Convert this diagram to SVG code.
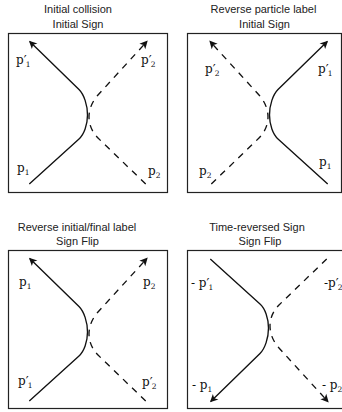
<svg xmlns="http://www.w3.org/2000/svg" width="342" height="412" viewBox="0 0 342 412">
<style>
.box{fill:#fff;stroke:#222;stroke-width:1.2}
.title{font-family:"Liberation Sans",Arial,sans-serif;font-size:11px;fill:#222;text-anchor:middle}
.m{font-family:"DejaVu Serif","Liberation Serif",serif;font-size:12px;fill:#111}
.sup{font-size:13px}
.sub{font-size:7.5px}
.solid{fill:none;stroke:#111;stroke-width:1.35;marker-end:url(#arr)}
.dashed{fill:none;stroke:#111;stroke-width:1.35;stroke-dasharray:6.5 6;marker-end:url(#arr)}
</style>
<defs>
<marker id="arr" markerUnits="userSpaceOnUse" markerWidth="1" markerHeight="1" refX="0" refY="0" orient="auto" overflow="visible">
<path d="M1.5,0 L-6.5,-4 L-4.5,0 L-6.5,4 Z" fill="#111" stroke="none"/>
</marker>
</defs>
<rect width="342" height="412" fill="#fff"/>
<g id="panel1">
<rect class="box" x="8.5" y="33.5" width="159" height="159"/>
<text class="title" x="78" y="13">Initial collision</text>
<text class="title" x="78" y="27.5">Initial Sign</text>
<text class="m" x="16" y="64">p<tspan class="sup" dy="1">′</tspan><tspan class="sub" dx="-1" dy="1.5">1</tspan></text>
<text class="m" x="141" y="64">p<tspan class="sup" dy="1">′</tspan><tspan class="sub" dx="-1" dy="1.5">2</tspan></text>
<text class="m" x="17" y="172">p<tspan class="sub" dy="2.5">1</tspan></text>
<text class="m" x="148" y="175">p<tspan class="sub" dy="2.5">2</tspan></text>
</g>
<g id="panel2">
<rect class="box" x="187.5" y="33.5" width="154" height="159"/>
<text class="title" x="263.5" y="13">Reverse particle label</text>
<text class="title" x="264.5" y="27.5">Initial Sign</text>
<text class="m" x="205" y="73">p<tspan class="sup" dy="1">′</tspan><tspan class="sub" dx="-1" dy="1.5">2</tspan></text>
<text class="m" x="318" y="73">p<tspan class="sup" dy="1">′</tspan><tspan class="sub" dx="-1" dy="1.5">1</tspan></text>
<text class="m" x="319" y="166">p<tspan class="sub" dy="2.5">1</tspan></text>
<text class="m" x="199" y="175">p<tspan class="sub" dy="2.5">2</tspan></text>
</g>
<g id="panel3">
<rect class="box" x="8.5" y="250.5" width="159" height="158"/>
<text class="title" x="77" y="230.5">Reverse initial/final label</text>
<text class="title" x="77.5" y="245">Sign Flip</text>
<text class="m" x="19" y="286">p<tspan class="sub" dy="2.5">1</tspan></text>
<text class="m" x="143" y="286">p<tspan class="sub" dy="2.5">2</tspan></text>
<text class="m" x="18" y="385">p<tspan class="sup" dy="1">′</tspan><tspan class="sub" dx="-1" dy="1.5">1</tspan></text>
<text class="m" x="142" y="386">p<tspan class="sup" dy="1">′</tspan><tspan class="sub" dx="-1" dy="1.5">2</tspan></text>
</g>
<g id="panel4">
<rect class="box" x="187.5" y="250.5" width="160" height="158"/>
<text class="title" x="257" y="230.5">Time-reversed Sign</text>
<text class="title" x="260" y="245">Sign Flip</text>
<text class="m" x="191" y="287">- p<tspan class="sup" dy="1">′</tspan><tspan class="sub" dx="-1" dy="1.5">1</tspan></text>
<text class="m" x="324" y="287">-p<tspan class="sup" dy="1">′</tspan><tspan class="sub" dx="-1" dy="1.5">2</tspan></text>
<text class="m" x="192" y="389">- p<tspan class="sub" dy="2.5">1</tspan></text>
<text class="m" x="322" y="389">- p<tspan class="sub" dy="2.5">2</tspan></text>
</g>
<g id="connectors">
<g transform="translate(88,113)">
<path class="solid" d="M-58.7,71 L-9,26 C-4,21.5 -0.5,12 -0.5,2 C-0.5,-8 -4,-18.5 -9,-23.5 L-58,-71.3"/>
<path class="dashed" d="M57.7,71 L10,25 C4.5,19.5 1,12 1,4 C1,-4 4.5,-12 10,-18 L58.7,-71.3"/>
</g>
<g transform="translate(269,113) scale(-1,1)">
<path class="solid" d="M-58.7,71 L-9,26 C-4,21.5 -0.5,12 -0.5,2 C-0.5,-8 -4,-18.5 -9,-23.5 L-58,-71.3"/>
<path class="dashed" d="M57.7,71 L10,25 C4.5,19.5 1,12 1,4 C1,-4 4.5,-12 10,-18 L58.7,-71.3"/>
</g>
<g transform="translate(88,330)">
<path class="solid" d="M-58.7,71 L-9,26 C-4,21.5 -0.5,12 -0.5,2 C-0.5,-8 -4,-18.5 -9,-23.5 L-58,-71.3"/>
<path class="dashed" d="M57.7,71 L10,25 C4.5,19.5 1,12 1,4 C1,-4 4.5,-12 10,-18 L58.7,-71.3"/>
</g>
<g transform="translate(269,330) scale(1,-1)">
<path class="solid" d="M-58.7,71 L-9,26 C-4,21.5 -0.5,12 -0.5,2 C-0.5,-8 -4,-18.5 -9,-23.5 L-58,-71.3"/>
<path class="dashed" d="M57.7,71 L10,25 C4.5,19.5 1,12 1,4 C1,-4 4.5,-12 10,-18 L58.7,-71.3"/>
</g>
</g>
</svg>
